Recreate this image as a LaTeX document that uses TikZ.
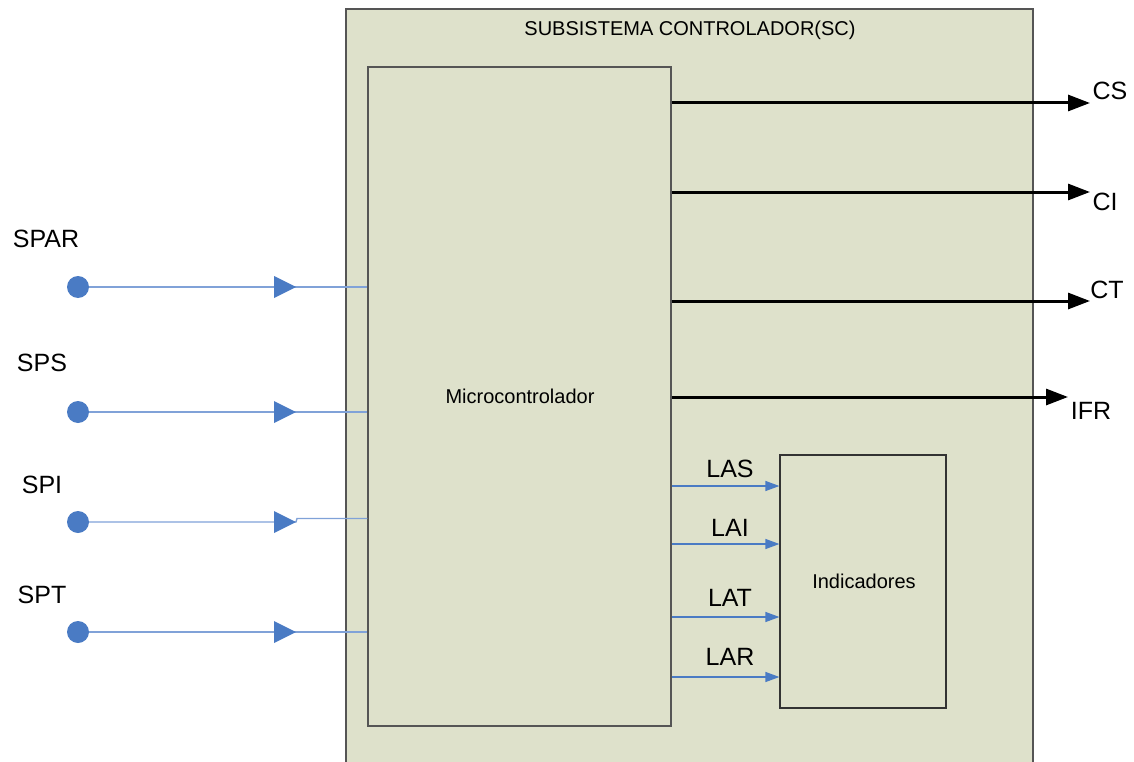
\documentclass[tikz,border=0pt]{standalone}
\usepackage{fontspec}
\setmainfont{Liberation Sans}
\usetikzlibrary{arrows.meta}
\definecolor{panel}{RGB}{222,225,203}
\definecolor{edgegray}{RGB}{85,85,85}
\definecolor{sigblue}{RGB}{74,123,196}
\definecolor{wireblue}{RGB}{128,162,216}
\tikzset{
  x=1pt, y=-1pt,
  lbl/.style={font=\fontsize{25}{30}\selectfont, inner sep=0pt},
  smalltxt/.style={font=\fontsize{20}{24}\selectfont, inner sep=0pt},
  block/.style={draw=edgegray, fill=panel, line width=1.2pt, inner sep=0pt},
  srcdot/.style={circle, fill=sigblue, minimum size=22pt, inner sep=0pt},
  wire/.style={wireblue, line width=1.4pt},
  wiretip/.style={fill=sigblue},
  outarrow/.style={line width=3pt, -{Triangle[length=22pt,width=16pt]}},
  ledarrow/.style={sigblue, line width=1.2pt, -{Triangle[length=14pt,width=10pt]}},
}
\begin{document}
\begin{tikzpicture}
\useasboundingbox (0,0) rectangle (1134,762);

% outer subsystem panel (runs past the bottom edge)
\fill[panel] (346,9) rectangle (1033,790);
\draw[edgegray, line width=1.2pt] (346,790) -- (346,9) -- (1033,9) -- (1033,790);
\node[smalltxt] (title) at (690,30) {SUBSISTEMA CONTROLADOR(SC)};

% inner blocks
\node[block, minimum width=303pt, minimum height=659pt] (micro) at (519.5,396.5) {};
\node[smalltxt] (microtxt) at (520,396) {Microcontrolador};
\node[block, draw=black!80, minimum width=166pt, minimum height=253pt] (ind) at (863,581.5) {};
\node[smalltxt] (indtxt) at (864,581) {Indicadores};

% sensor inputs
\node[srcdot] (dspar) at (78,287) {};
\node[srcdot] (dsps)  at (78,412) {};
\node[srcdot] (dspi)  at (78,522) {};
\node[srcdot] (dspt)  at (78,632) {};
\node[lbl] (lspar) at (46,239) {SPAR};
\node[lbl] (lsps)  at (42,363) {SPS};
\node[lbl] (lspi)  at (42,485) {SPI};
\node[lbl] (lspt)  at (42,595) {SPT};

\draw[wire] (dspar) -- (micro.west |- dspar);
\draw[wire] (dsps)  -- (micro.west |- dsps);
\coordinate (spitip) at (296,522);
\draw[wire] (dspi) -- (spitip) -- (297,518.5) -- (micro.west |- 0,518.5);
\draw[wire] (dspt)  -- (micro.west |- dspt);

\foreach \d in {dspar,dsps,dspi,dspt}
  \fill[wiretip] (296,0 |- \d) -- ++(-22,-11) -- ++(0,22) -- cycle;

% control outputs
\coordinate (cs)  at (1090,103);
\coordinate (ci)  at (1090,192);
\coordinate (ct)  at (1090,301);
\coordinate (ifr) at (1068,397);
\draw[outarrow] (micro.east |- cs)  -- (cs);
\draw[outarrow] (micro.east |- ci)  -- (ci);
\draw[outarrow] (micro.east |- ct)  -- (ct);
\draw[outarrow] (micro.east |- ifr) -- (ifr);
\node[lbl] (lcs)  at (1110,91)  {CS};
\node[lbl] (lci)  at (1105,202) {CI};
\node[lbl] (lct)  at (1107,290) {CT};
\node[lbl] (lifr) at (1091,411) {IFR};

% indicator lines
\draw[ledarrow] (micro.east |- 0,486) -- (ind.west |- 0,486);
\draw[ledarrow] (micro.east |- 0,544) -- (ind.west |- 0,544);
\draw[ledarrow] (micro.east |- 0,617) -- (ind.west |- 0,617);
\draw[ledarrow] (micro.east |- 0,677) -- (ind.west |- 0,677);
\node[lbl] (llas) at (730,469) {LAS};
\node[lbl] (llai) at (730,528) {LAI};
\node[lbl] (llat) at (730,598) {LAT};
\node[lbl] (llar) at (730,657) {LAR};
\end{tikzpicture}
\end{document}
